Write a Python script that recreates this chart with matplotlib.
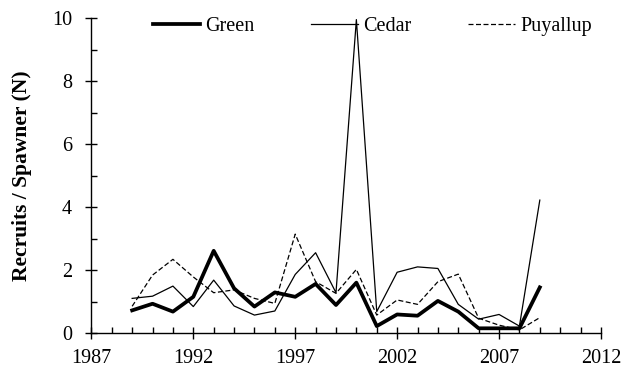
import numpy as np
import matplotlib
matplotlib.use('Agg')
import matplotlib.pyplot as plt
from matplotlib.ticker import MultipleLocator

plt.rcParams['font.family'] = ['Liberation Serif', 'DejaVu Serif']

years = np.arange(1989, 2010)
green = [0.72, 0.93, 0.68, 1.15, 2.61, 1.42, 0.84, 1.29, 1.15, 1.56, 0.89,
         1.60, 0.22, 0.59, 0.55, 1.02, 0.68, 0.15, 0.15, 0.15, 1.45]
cedar = [1.10, 1.17, 1.49, 0.84, 1.68, 0.86, 0.57, 0.70, 1.86, 2.55, 1.28,
         9.95, 0.68, 1.93, 2.10, 2.05, 0.91, 0.44, 0.59, 0.22, 4.22]
puyallup = [0.85, 1.84, 2.34, 1.78, 1.28, 1.37, 1.10, 0.94, 3.14, 1.63, 1.26,
            2.02, 0.57, 1.05, 0.91, 1.63, 1.87, 0.47, 0.25, 0.10, 0.49]
xticks = np.arange(1987, 2013, 5)

fig = plt.figure(figsize=(6.26, 3.68), dpi=100)
ax = fig.add_axes([0.146, 0.095, 0.814, 0.856])

ax.plot(years, green, color='black', lw=2.7, label='Green')
ax.plot(years, cedar, color='black', lw=0.9, label='Cedar')
ax.plot(years, puyallup, color='black', lw=0.9, ls=(0, (4, 2)), label='Puyallup')

ax.set_xlim(1987, 2012)
ax.set_ylim(0, 10)
ax.set_xticks(xticks)
ax.xaxis.set_minor_locator(MultipleLocator(1))
ax.yaxis.set_major_locator(MultipleLocator(2))
ax.yaxis.set_minor_locator(MultipleLocator(1))
ax.tick_params(which='major', direction='inout', length=8, width=1, labelsize=14.5)
ax.tick_params(axis='y', which='major', pad=10)
ax.tick_params(axis='x', which='major', pad=7.5)
ax.tick_params(which='minor', direction='in', length=4, width=1)
for s in ['top', 'right']:
    ax.spines[s].set_visible(False)
for s in ['left', 'bottom']:
    ax.spines[s].set_linewidth(1)

ax.set_ylabel('Recruits / Spawner (N)', fontsize=15.5, fontweight='bold', labelpad=14)

fig.legend(loc='center', bbox_to_anchor=(0.595, 0.928), ncol=3, frameon=False,
           fontsize=14.5, handlelength=2.35, handletextpad=0.25, columnspacing=2.8)

fig.savefig('out.png', dpi=100)
